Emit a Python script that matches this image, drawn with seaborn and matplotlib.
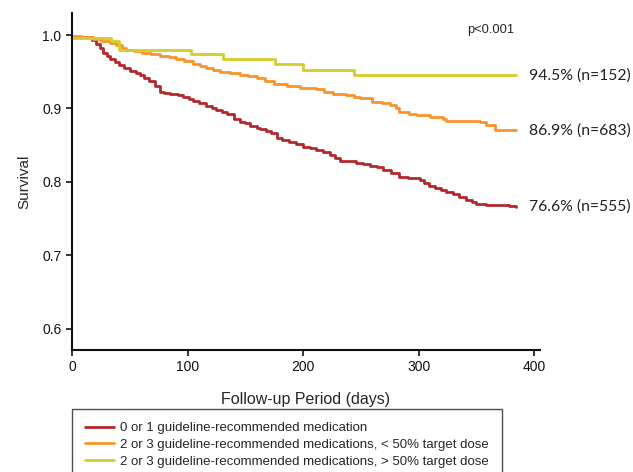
import pandas as pd
import seaborn as sns
import matplotlib.pyplot as plt

# Kaplan-Meier step points (day, survival)
red_days = [0, 17, 21, 24, 27, 30, 33, 37, 41, 45, 50, 55, 59, 62, 67, 72, 76, 80, 85, 92,
            96, 101, 105, 110, 116, 121, 125, 130, 134, 140, 145, 150, 154, 160, 163, 168,
            172, 177, 182, 188, 194, 200, 206, 211, 217, 223, 228, 232, 240, 246, 252, 258,
            264, 269, 276, 283, 291, 301, 305, 309, 314, 319, 324, 330, 335, 341, 346, 350,
            358, 378, 384]
red_surv = [0.997, 0.993, 0.988, 0.983, 0.976, 0.971, 0.967, 0.963, 0.959, 0.955, 0.951,
            0.948, 0.945, 0.942, 0.938, 0.931, 0.923, 0.921, 0.920, 0.918, 0.916, 0.913,
            0.910, 0.907, 0.903, 0.900, 0.898, 0.895, 0.892, 0.885, 0.882, 0.880, 0.876,
            0.873, 0.872, 0.869, 0.866, 0.860, 0.857, 0.854, 0.851, 0.848, 0.846, 0.843,
            0.840, 0.836, 0.832, 0.829, 0.828, 0.826, 0.824, 0.822, 0.820, 0.816, 0.812,
            0.807, 0.805, 0.803, 0.799, 0.795, 0.792, 0.789, 0.786, 0.783, 0.779, 0.775,
            0.772, 0.770, 0.769, 0.767, 0.766]

orange_days = [0, 8, 18, 25, 33, 38, 43, 47, 54, 61, 68, 76, 84, 90, 97, 105, 111, 116, 122,
               128, 137, 145, 152, 160, 167, 175, 186, 197, 211, 218, 226, 237, 244, 249, 260,
               268, 275, 280, 283, 292, 298, 310, 321, 324, 353, 358, 366, 384]
orange_surv = [0.999, 0.997, 0.995, 0.992, 0.989, 0.986, 0.983, 0.980, 0.978, 0.976, 0.974,
               0.972, 0.970, 0.968, 0.965, 0.961, 0.958, 0.955, 0.952, 0.950, 0.948, 0.946,
               0.944, 0.941, 0.938, 0.933, 0.931, 0.928, 0.926, 0.923, 0.920, 0.918, 0.916,
               0.914, 0.909, 0.907, 0.905, 0.900, 0.895, 0.893, 0.891, 0.889, 0.886, 0.883,
               0.882, 0.877, 0.870, 0.870]

yellow_days = [0, 34, 41, 103, 131, 176, 200, 244, 384]
yellow_surv = [0.996, 0.992, 0.980, 0.974, 0.967, 0.960, 0.952, 0.945, 0.945]

groups = ["0 or 1 guideline-recommended medication",
          "2 or 3 guideline-recommended medications, < 50% target dose",
          "2 or 3 guideline-recommended medications, > 50% target dose"]
end_labels = ["76.6% (n=555)", "86.9% (n=683)", "94.5% (n=152)"]
colors = ["#b3282d", "#f8952a", "#d4cc2a"]

sns.set_style("ticks")
plt.rcParams["font.family"] = ["Liberation Sans", "DejaVu Sans"]

fig = plt.figure(figsize=(6.33, 4.72), dpi=100)
ax = fig.add_axes([72 / 633, 1 - 350 / 472, 468 / 633, 337 / 472])

series = [(red_days, red_surv), (orange_days, orange_surv), (yellow_days, yellow_surv)]
for (days, surv), name, color, lab in zip(series, groups, colors, end_labels):
    df = pd.DataFrame({"day": days, "surv": surv})
    sns.lineplot(data=df, x="day", y="surv", ax=ax, color=color, lw=2.0,
                 drawstyle="steps-post", label=name, legend=False)
    ax.text(days[-1] + 11.5, surv[-1], lab, fontsize=11.3, family="Lato",
            va="center", ha="left", color="#222222", clip_on=False)

ax.set_xlim(0, 405)
ax.set_ylim(0.571, 1.030)
ax.set_xticks([0, 100, 200, 300, 400])
ax.set_yticks([0.6, 0.7, 0.8, 0.9, 1.0])
ax.set_yticklabels(["0.6", "0.7", "0.8", "0.9", "1.0"])
ax.tick_params(axis="both", direction="out", length=4, width=1.2, labelsize=10,
               colors="#111111")
for side in ["left", "bottom"]:
    ax.spines[side].set_linewidth(1.5)
    ax.spines[side].set_color("#111111")
sns.despine(ax=ax)

ax.set_xlabel("Follow-up Period (days)", fontsize=11.5, labelpad=13)
ax.set_ylabel("Survival", fontsize=11, labelpad=8)
ax.text(0.895, 0.95, "p<0.001", transform=ax.transAxes, fontsize=9.3, ha="center",
        va="center")

handles, labels = ax.get_legend_handles_labels()
leg = fig.legend(handles, labels, loc="upper left", bbox_to_anchor=(72 / 633, 1 - 409 / 472),
                 fontsize=9.5, frameon=True, fancybox=False, edgecolor="#222222",
                 handlelength=2.2, borderpad=1.0, labelspacing=0.33, handletextpad=0.45,
                 borderaxespad=0)
leg.get_frame().set_linewidth(1.0)
leg.get_frame().set_boxstyle("square", pad=0)

fig.savefig("out.png", dpi=100)
